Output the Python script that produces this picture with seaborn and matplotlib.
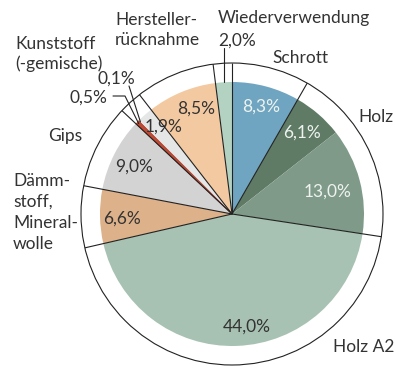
import numpy as np
import matplotlib
matplotlib.use("Agg")
import matplotlib.pyplot as plt
from matplotlib.patches import Circle
import seaborn as sns

# Shares of the recovered material streams (percent), clockwise from 12 o'clock
values = [8.3, 6.1, 13.0, 44.0, 6.6, 9.0, 0.5, 0.1, 1.9, 8.5, 2.0]
value_labels = ["8,3%", "6,1%", "13,0%", "44,0%", "6,6%", "9,0%",
                "0,5%", "0,1%", "1,9%", "8,5%", "2,0%"]
groups = ["Schrott", "Holz", "Holz", "Holz A2", "Dämmstoff", "Gips",
          "Kunststoff", "Kunststoff", "Kunststoff",
          "Herstellerrücknahme", "Wiederverwendung"]
colors = ["#6fa5c0", "#5f7b66", "#7f9a88", "#a7c2b2", "#ddb189", "#d3d3d3",
          "#c24a33", "#ffffff", "#e5e6e6", "#f3c9a1", "#b3d2c2"]
light_text = [True, True, True, False, False, False,
              False, False, False, False, False]

sns.set_theme(style="white")
plt.rcParams["font.family"] = ["Lato", "DejaVu Sans"]

W, H = 395, 369
fig = plt.figure(figsize=(W / 100, H / 100), dpi=100)
ax = fig.add_axes([0, 0, 1, 1])

cx, cy_px = 232, 214
cy = H - cy_px
r_in, r_out = 132, 151

ax.pie(values, colors=colors, startangle=90, counterclock=False,
       radius=r_in, center=(cx, cy),
       wedgeprops=dict(linewidth=0))

ax.add_patch(Circle((cx, cy), r_out, fill=False, edgecolor="#222222",
                    linewidth=0.8, zorder=3))

def angle_at(cum):
    # clockwise from the top, in radians (math convention)
    return np.deg2rad(90 - 360 * cum / 100)

cum = np.concatenate([[0], np.cumsum(values)])
# radial separators between groups, running out to the outer ring
for i in range(len(values)):
    if i == 0 or groups[i] != groups[i - 1]:
        a = angle_at(cum[i])
        ax.plot([cx, cx + r_out * np.cos(a)], [cy, cy + r_out * np.sin(a)],
                color="#222222", linewidth=0.8, zorder=4,
                solid_capstyle="butt")

# thin red wedge outline
a0, a1 = angle_at(cum[6]), angle_at(cum[7])
for a in (a0, a1):
    ax.plot([cx, cx + r_in * np.cos(a)], [cy, cy + r_in * np.sin(a)],
            color="#9a3422", linewidth=0.5, zorder=3)

txt = dict(fontsize=12.5, fontweight="normal", color="#333333")

def T(x, y, s, ha="left", **kw):
    d = dict(txt)
    d.update(kw)
    ax.text(x, H - y, s, ha=ha, va="center", **d)

# value labels inside the wedges
inside = {0: (261, 107), 1: (302, 133), 2: (328, 192), 3: (247, 327),
          4: (122, 219), 5: (134, 167), 8: (164, 127), 9: (196, 109)}
for i, (x, y) in inside.items():
    T(x, y, value_labels[i], ha="center",
      color="#eef3ef" if light_text[i] else "#333333")

# small wedges with leader lines
def mid_point(i, r):
    a = angle_at((cum[i] + cum[i + 1]) / 2)
    return cx + r * np.cos(a), cy + r * np.sin(a)

x10, y10 = mid_point(10, r_in)
ax.plot([x10, x10], [y10, H - 48], color="#222222", linewidth=0.8, zorder=4)
T(218, 41, value_labels[10])

x7, y7 = mid_point(7, r_in - 2)
ax.plot([x7, 129], [y7, H - 86], color="#222222", linewidth=0.8, zorder=4)
T(98, 79, value_labels[7])

x6, y6 = mid_point(6, r_in - 2)
ax.plot([x6, 125, 113], [y6, H - 96, H - 96], color="#222222",
        linewidth=0.8, zorder=4)
T(70, 98, value_labels[6])

# group names around the ring
T(218, 18, "Wiederverwendung")
T(115, 20, "Hersteller-")
T(115, 40, "rücknahme")
T(272, 58, "Schrott")
T(394, 117, "Holz", ha="right")
T(333, 347, "Holz A2")
T(48, 136, "Gips")
T(15, 44, "Kunststoff")
T(15, 64, "(-gemische)")
for k, line in enumerate(["Dämm-", "stoff,", "Mineral-", "wolle"]):
    T(13, 181 + 21 * k, line)

ax.set_xlim(0, W)
ax.set_ylim(0, H)
ax.set_aspect("equal")
ax.axis("off")

fig.savefig("out.png", dpi=100)
